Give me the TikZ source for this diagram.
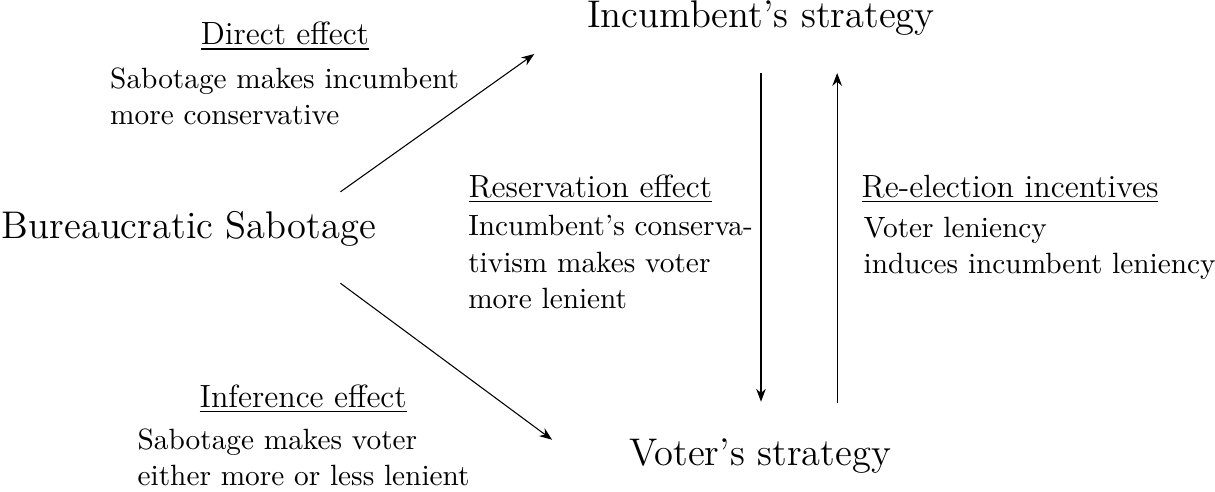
\documentclass[tikz,border=0pt,11pt]{standalone}
\usetikzlibrary{arrows.meta}
\begin{document}
\begin{tikzpicture}[>=Stealth,
  big/.style={font=\Large,anchor=base},
  head/.style={font=\large,anchor=base},
  body/.style={align=left,anchor=north west,inner sep=0pt}]
  \useasboundingbox (0,0) rectangle (15.95,6.45);
  \node[big] (inc) at (9.99,6.09) {Incumbent's strategy};
  \node[big] (vot) at (9.98,0.34) {Voter's strategy};
  \node[big] (bur) at (2.48,3.32) {Bureaucratic Sabotage};
  \node[head] (dirh) at (3.74,5.86) {\underline{Direct effect}};
  \node[body] (dirb) at (1.44,5.57) {Sabotage makes incumbent\\more conservative};
  \node[head] (infh) at (3.98,1.10) {\underline{Inference effect}};
  \node[body] (infb) at (1.80,0.83) {Sabotage makes voter\\either more or less lenient};
  \node[head] (resh) at (7.75,3.86) {\underline{Reservation effect}};
  \node[body] (resb) at (6.14,3.63) {Incumbent's conserva-\\tivism makes voter\\more lenient};
  \node[head] (relh) at (13.26,3.86) {\underline{Re-election incentives}};
  \node[body] (relb) at (11.33,3.61) {Voter leniency\\induces incumbent leniency};
  \draw[->] ([shift={(-0.60,0.12)}]bur.north east) -- ([shift={(-0.56,-0.11)}]inc.south west);
  \draw[->] ([shift={(-0.60,-0.35)}]bur.south east) -- ([shift={(-0.88,-0.15)}]vot.north west);
  \draw[->,shorten <=0.36cm,shorten >=0.35cm] (inc.south) -- (inc.south |- vot.north);
  \draw[->,shorten <=0.33cm,shorten >=0.36cm] ([xshift=1.01cm]vot.north) -- ([xshift=1.01cm]vot.north |- inc.south);
\end{tikzpicture}
\end{document}
